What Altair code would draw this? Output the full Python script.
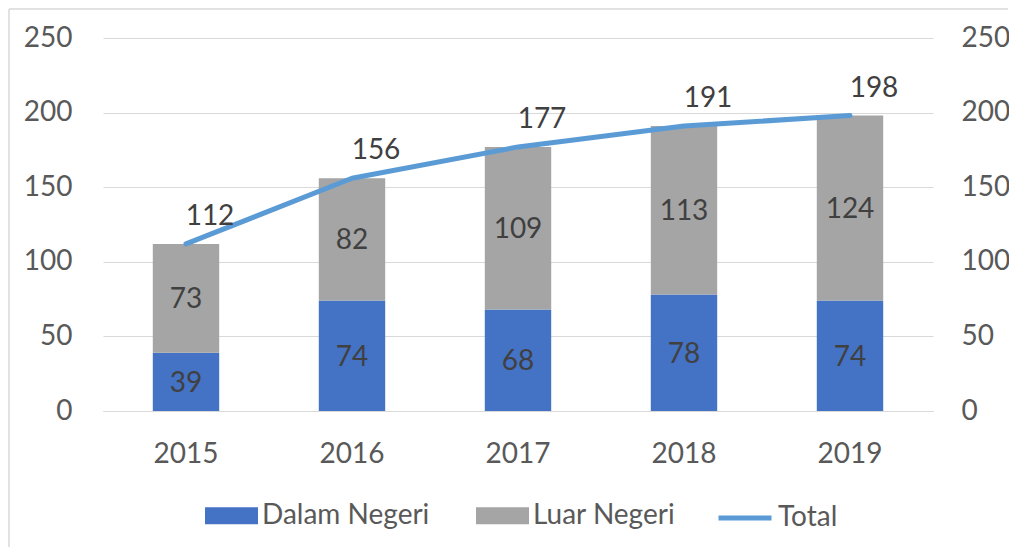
import altair as alt
import pandas as pd

years = ["2015", "2016", "2017", "2018", "2019"]
dalam = [39, 74, 68, 78, 74]
luar = [73, 82, 109, 113, 124]
total = [112, 156, 177, 191, 198]
bar_series = ["Dalam Negeri", "Luar Negeri"]
bar_colors = ["#4472C4", "#A5A5A5"]
line_series = ["Total"]
line_colors = ["#5B9BD5"]
y_ticks = [0, 50, 100, 150, 200, 250]

rows = []
for i, yr in enumerate(years):
    rows.append({"year": yr, "series": bar_series[0], "value": dalam[i], "order": 0})
    rows.append({"year": yr, "series": bar_series[1], "value": luar[i], "order": 1})
bars_df = pd.DataFrame(rows)
line_df = pd.DataFrame({"year": years, "total": total, "series": line_series[0]})

FONT = "Lato"
FS = 28
TICK_COLOR = "#595959"
LABEL_COLOR = "#404040"
GRID = "#D9D9D9"

yscale = alt.Scale(domain=[0, 250])

bar_legend = alt.Legend(
    title=None,
    orient="none",
    legendX=102,
    legendY=451,
    direction="horizontal",
    labelFont=FONT,
    labelFontSize=FS,
    labelColor=TICK_COLOR,
    labelOffset=4,
    labelLimit=400,
    columnPadding=46,
    symbolSize=2809,
    symbolType="M-1,-0.32h2v0.64h-2z",
    symbolStrokeWidth=0,
    symbolOpacity=1,
)
line_legend = alt.Legend(
    title=None,
    orient="none",
    legendX=613,
    legendY=451,
    direction="horizontal",
    labelFont=FONT,
    labelFontSize=FS,
    labelColor=TICK_COLOR,
    labelOffset=4,
    labelLimit=400,
    symbolSize=2809,
    symbolType="stroke",
    symbolStrokeWidth=5,
    symbolOpacity=1,
)

x_enc = alt.X(
    "year:N",
    sort=years,
    scale=alt.Scale(paddingInner=0.6, paddingOuter=0.3),
    axis=alt.Axis(
        title=None,
        labelAngle=0,
        ticks=False,
        domainColor=GRID,
        domainWidth=1,
        labelPadding=29,
        labelFont=FONT,
        labelFontSize=FS,
        labelColor=TICK_COLOR,
    ),
)

left_axis = alt.Axis(
    title=None,
    values=y_ticks,
    ticks=False,
    domain=False,
    grid=True,
    gridColor=GRID,
    gridWidth=1,
    labelPadding=31,
    labelFont=FONT,
    labelFontSize=FS,
    labelColor=TICK_COLOR,
)
right_axis = alt.Axis(
    title=None,
    orient="right",
    values=y_ticks,
    ticks=False,
    domain=False,
    grid=False,
    labelPadding=28,
    labelFont=FONT,
    labelFontSize=FS,
    labelColor=TICK_COLOR,
)

base = (
    alt.Chart(bars_df)
    .transform_stack(
        stack="value",
        groupby=["year"],
        sort=[alt.SortField("order", "ascending")],
        as_=["y0", "y1"],
    )
    .transform_calculate(mid="(datum.y0 + datum.y1) / 2")
)

bars = base.mark_bar().encode(
    x=x_enc,
    y=alt.Y("y0:Q", scale=yscale, axis=left_axis),
    y2="y1:Q",
    fill=alt.Fill("series:N", scale=alt.Scale(domain=bar_series, range=bar_colors), legend=bar_legend),
)
bar_text = base.mark_text(font=FONT, fontSize=FS, color=LABEL_COLOR, dy=2).encode(
    x=x_enc,
    y=alt.Y("mid:Q", scale=yscale),
    text="value:Q",
)
left_group = alt.layer(bars, bar_text)

line = alt.Chart(line_df).mark_line(strokeWidth=5, strokeCap="round", strokeJoin="round").encode(
    x=x_enc,
    y=alt.Y("total:Q", scale=yscale, axis=right_axis),
    stroke=alt.Stroke("series:N", scale=alt.Scale(domain=line_series, range=line_colors), legend=line_legend),
)
line_text = alt.Chart(line_df).mark_text(
    font=FONT, fontSize=FS, color=LABEL_COLOR, dx=24, dy=-27
).encode(
    x=x_enc,
    y=alt.Y("total:Q", scale=yscale),
    text="total:Q",
)
right_group = alt.layer(line, line_text)

border_left = alt.Chart(alt.Data(values=[{}])).mark_rule(color=GRID, strokeWidth=1.5).encode(
    x=alt.value(-94), y=alt.value(-29), y2=alt.value(515)
)
border_top = alt.Chart(alt.Data(values=[{}])).mark_rule(color=GRID, strokeWidth=1.5).encode(
    x=alt.value(-94), x2=alt.value(905), y=alt.value(-29)
)

chart = (
    alt.layer(left_group, right_group, border_left, border_top)
    .resolve_scale(y="independent")
    .properties(
        width=830,
        height=373,
        autosize="none",
        padding={"left": 95, "top": 30, "right": 76, "bottom": 136},
    )
    .configure_view(stroke=None)
)

chart.save("out.html", embed_options={"renderer": "svg", "actions": False})
